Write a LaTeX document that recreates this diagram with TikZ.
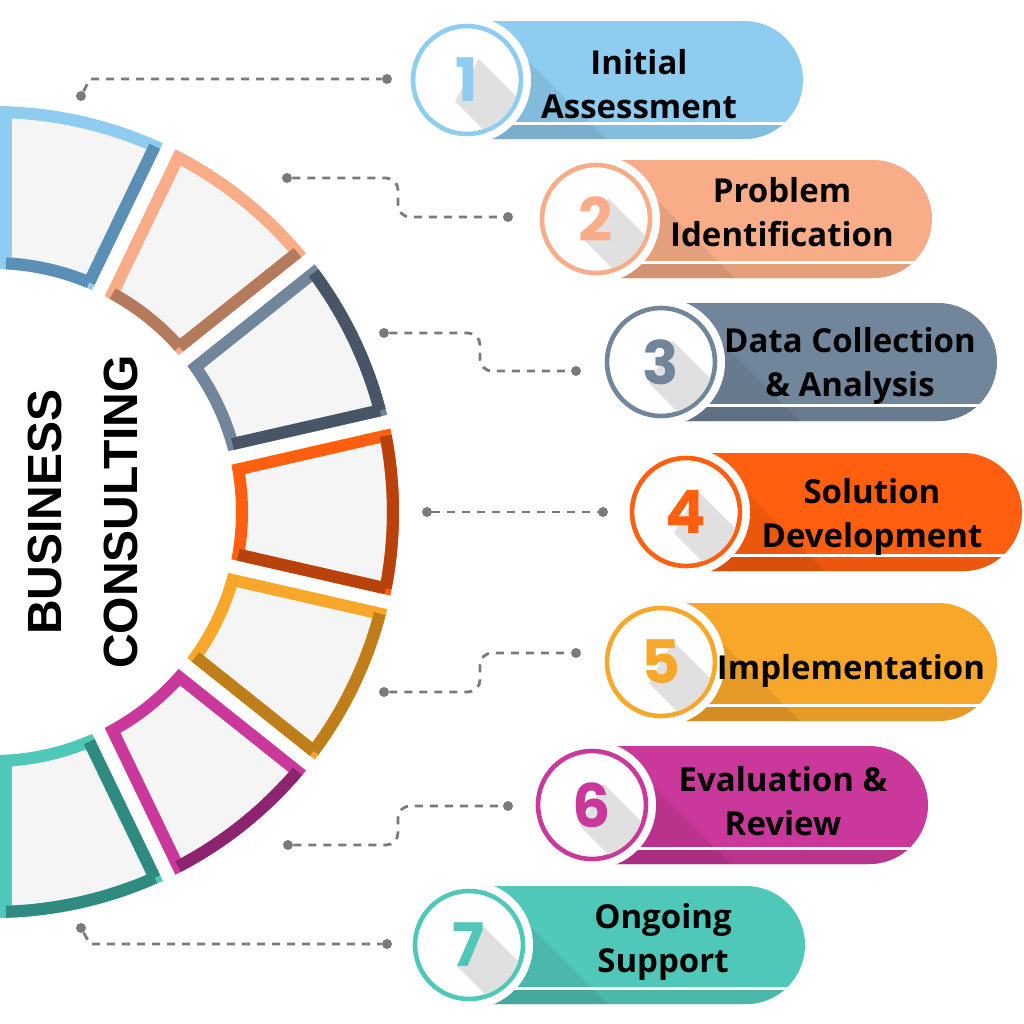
\documentclass[tikz,border=0pt]{standalone}
\usepackage{fontspec}
\setmainfont{Open Sans}
\newfontfamily\titlefont{Liberation Sans}
\newfontfamily\digitfont{Poppins}
\usepackage{tikz}
\usetikzlibrary{positioning}

\definecolor{c1}{HTML}{8ECDF0}\definecolor{d1}{HTML}{5B8FB6}
\definecolor{c2}{HTML}{F8AD88}\definecolor{d2}{HTML}{B37A5C}
\definecolor{c3}{HTML}{71869B}\definecolor{d3}{HTML}{475566}
\definecolor{c4}{HTML}{FF5F0F}\definecolor{d4}{HTML}{B9410B}
\definecolor{c5}{HTML}{F9A72A}\definecolor{d5}{HTML}{C07E1B}
\definecolor{c6}{HTML}{C9389A}\definecolor{d6}{HTML}{8D2470}
\definecolor{c7}{HTML}{50C8B9}\definecolor{d7}{HTML}{2F8A7F}
\definecolor{dotgray}{HTML}{7A7A7A}

\tikzset{
    dot/.style={circle, fill=dotgray, inner sep=0pt, minimum size=5pt},
    link/.style={draw=dotgray, line width=1.4pt, dash pattern=on 4pt off 3.5pt},
    steptext/.style={align=center, text=black, font=\bfseries\fontsize{16.5}{22}\selectfont},
    digit/.style={font=\digitfont\bfseries\fontsize{30}{30}\selectfont},
    ringedge/.style={line width=6pt, line cap=square}
}

\begin{document}
\begin{tikzpicture}[x=0.5pt, y=-0.5pt]
    \useasboundingbox (0,0) rectangle (1024,1024);

    % Half ring of seven frames on the left
    \foreach \k/\eo/\ea/\ei/\eb in {1/0/0/1/1, 2/0/0/1/1, 3/1/0/0/1, 4/1/0/0/1, 5/1/0/0/1, 6/1/0/0/0, 7/1/1/0/0} {
        \pgfmathsetmacro\mid{25.714*\k-102.857}
        \pgfmathsetmacro\ao{\mid-11}
        \pgfmathsetmacro\bo{\mid+11}
        \pgfmathsetmacro\ai{\mid-9.87}
        \pgfmathsetmacro\bi{\mid+9.87}
        \begin{scope}[shift={(-7,512)}]
            \filldraw[fill=black!4, draw=c\k, line width=6pt, line join=miter]
                (\ao:400) arc[start angle=\ao, end angle=\bo, radius=400]
                -- (\bi:249) arc[start angle=\bi, end angle=\ai, radius=249] -- cycle;
            \ifnum\eo=1 \draw[ringedge, d\k] (\ao:400) arc[start angle=\ao, end angle=\bo, radius=400]; \fi
            \ifnum\eb=1 \draw[ringedge, d\k] (\bo:400) -- (\bi:249); \fi
            \ifnum\ei=1 \draw[ringedge, d\k] (\bi:249) arc[start angle=\bi, end angle=\ai, radius=249]; \fi
            \ifnum\ea=1 \draw[ringedge, d\k] (\ai:249) -- (\ao:400); \fi
        \end{scope}
    }

    % Title inside the ring
    \node[rotate=90, align=center, font=\titlefont\bfseries\fontsize{24}{38}\selectfont] (title) at (83,512) {BUSINESS\\CONSULTING};

    % Dots at both ends of the dashed links
    \node[dot] (p1) at (81,96) {};   \node[dot] (q1) at (387,79) {};
    \node[dot] (p2) at (287,178) {}; \node[dot] (q2) at (508,217) {};
    \node[dot] (p3) at (384,333) {}; \node[dot] (q3) at (576,371) {};
    \node[dot] (p4) at (427,512) {}; \node[dot] (q4) at (603,512) {};
    \node[dot] (p5) at (384,692) {}; \node[dot] (q5) at (576,653) {};
    \node[dot] (p6) at (288,845) {}; \node[dot] (q6) at (508,806) {};
    \node[dot] (p7) at (81,928) {};  \node[dot] (q7) at (387,944) {};

    \draw[link] (p1) -- (90,79) -- (q1);
    \draw[link, rounded corners=6pt] (p2) -| (398,217) -- (q2);
    \draw[link, rounded corners=6pt] (p3) -| (480,371) -- (q3);
    \draw[link] (p4) -- (q4);
    \draw[link, rounded corners=6pt] (p5) -| (480,653) -- (q5);
    \draw[link, rounded corners=6pt] (p6) -| (398,806) -- (q6);
    \draw[link] (p7) -- (90,944) -- (q7);

    % Step banners on the right
    \foreach \k/\cx/\cy/\tx/\ty/\txt in {1/467/80/639/84/{Initial\\Assessment},
        2/596/219/782/212/{Problem\\Identification},
        3/661/362/850/366/{Data Collection\\\& Analysis},
        4/686/512/872/517/{Solution\\Development},
        5/661/662/851/671/{Implementation},
        6/592/805/783/801/{Evaluation \&\\Review},
        7/469/945/663/942/{Ongoing\\Support}} {
        \begin{scope}
            \clip (\cx,\cy-59) -- (\cx+277,\cy-59) arc[start angle=-90, end angle=90, radius=59] -- (\cx,\cy+59) -- cycle;
            \fill[c\k] (\cx,\cy-60) rectangle (\cx+340,\cy+60);
            \fill[c\k!92!black] (\cx,\cy+44) rectangle (\cx+340,\cy+60);
            \fill[black, opacity=0.08] (\cx,\cy-60) -- (\cx+20,\cy-60) -- (\cx+140,\cy+60) -- (\cx,\cy+60) -- cycle;
        \end{scope}
        \draw[white, line width=1.5pt] (\cx+30,\cy+43) -- (\cx+318,\cy+43);
        \node[circle, fill=white, inner sep=0pt, minimum size=64pt] (n\k) at (\cx,\cy) {};
        \draw[c\k, line width=2.3pt] (n\k.center) circle (54);
        \begin{scope}
            \clip (n\k.center) circle (52);
            \fill[black!12] (\cx-12,\cy+21) -- (\cx+12,\cy-21) -- ++(60,60) -- (\cx+48,\cy+81) -- cycle;
            \node[digit, text=c\k] at (\cx,\cy) {\k};
        \end{scope}
        \node[steptext] (t\k) at (\tx,\ty) {\txt};
    }

\end{tikzpicture}
\end{document}
